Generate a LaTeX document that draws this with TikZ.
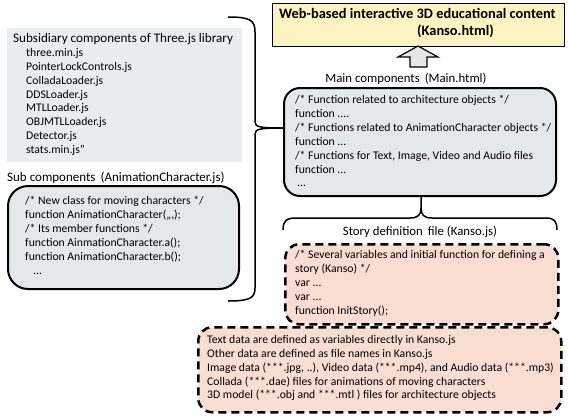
\documentclass[tikz,border=0pt]{standalone}
\usepackage{fontspec}
\setmainfont{Carlito}
\begin{document}
\begin{tikzpicture}[x=1pt,y=-1pt,
  txt/.style={inner sep=0pt,anchor=north west,align=left,font=\fontsize{11.7}{13.9}\selectfont},
  lbl/.style={inner sep=0pt,font=\fontsize{12.8}{14}\selectfont},
  graybox/.style={fill=boxgray,draw=none,inner sep=0pt,anchor=north west},
  roundbox/.style={draw=black,line width=2pt,rounded corners=16pt,fill=boxblue,inner sep=0pt,anchor=north west},
  dashbox/.style={draw=black,line width=2.5pt,dash pattern=on 8pt off 5pt,rounded corners=14pt,fill=salmon,inner sep=0pt,anchor=north west},
  brace/.style={draw=black,line width=1.5pt}]
\definecolor{boxgray}{HTML}{E9EDEE}
\definecolor{boxblue}{HTML}{E3E9EB}
\definecolor{salmon}{HTML}{F9DDD2}
\definecolor{titleyellow}{HTML}{FBF3C1}
\definecolor{arrowgray}{HTML}{E6E6E6}
\useasboundingbox (0,0) rectangle (568,416);
% title
\node[draw=black,line width=1.2pt,fill=titleyellow,minimum width=292pt,minimum height=43pt,inner sep=0pt,anchor=north west] (title) at (272,3) {};
\node[inner sep=0pt,anchor=north west,align=left,font=\fontsize{14.4}{17}\selectfont\bfseries] (titletxt) at (279,8) {Web-based interactive 3D educational content\\\hspace*{138pt}(Kanso.html)};
% hollow arrow
\coordinate (a1) at (410,67);
\coordinate (a2) at (410,57);
\coordinate (a3) at (398,57);
\coordinate (a4) at (418,46);
\coordinate (a5) at (438,57);
\coordinate (a6) at (427,57);
\coordinate (a7) at (427,67);
\draw[line width=1.2pt,fill=arrowgray] (a1) -- (a2) -- (a3) -- (a4) -- (a5) -- (a6) -- (a7) -- cycle;
% main
\node[lbl] (mainlbl) at (406,79) {Main components\, (Main.html)};
\node[roundbox,minimum width=272pt,minimum height=108pt] (main) at (283,87) {};
\node[txt] (maintxt) at (295,95) {/* Function related to architecture objects */\\
function ....\\
/* Functions related to AnimationCharacter objects */\\
function ...\\
/* Functions for Text, Image, Video and Audio files\\
function ...\\
\hspace*{2pt}...};
% subsidiary
\node[graybox,minimum width=235pt,minimum height=134pt] (subsid) at (7,28) {};
\node[inner sep=0pt,anchor=north west,align=left,font=\fontsize{13.1}{15}\selectfont] (subsidtitle) at (13,33) {Subsidiary components of Three.js library};
\node[txt] (subsidtxt) at (26,48) {three.min.js\\
PointerLockControls.js\\
ColladaLoader.js\\
DDSLoader.js\\
MTLLoader.js\\
OBJMTLLoader.js\\
Detector.js\\
stats.min.js"};
% sub components
\node[lbl,anchor=west,font=\fontsize{13}{15}\selectfont] (sublbl) at (7,178) {Sub components\, (AnimationCharacter.js)};
\node[roundbox,rounded corners=20pt,minimum width=231pt,minimum height=103pt] (sub) at (7,185) {};
\node[txt] (subtxt) at (25,196) {/* New class for moving characters */\\
function AnimationCharacter(,,,);\\
/* Its member functions */\\
function AinmationCharacter.a();\\
function AnimationCharacter.b();\\
\hspace*{8pt}...};
% big left brace
\coordinate (b1) at (228,17);
\coordinate (b2) at (228,301);
\coordinate (btip) at (main.west |- 0,128);
\draw[brace] (b1) .. controls (250,17) and (255,20) .. (255,32) -- (255,122)
  .. controls (255,127) and (260,128) .. (btip);
\draw[brace] (btip) .. controls (260,128) and (255,129) .. (255,134) -- (255,288)
  .. controls (255,298) and (250,301) .. (b2);
% story brace
\coordinate (s1) at (283,230);
\coordinate (s2) at (557,230);
\coordinate (stip) at (421,208);
\draw[brace] (s1) .. controls (283,221) and (286,218) .. (296,218) -- (410,218)
  .. controls (418,218) and (421,215) .. (stip) -- (main.south -| stip);
\draw[brace] (s2) .. controls (557,221) and (554,218) .. (546,218) -- (432,218)
  .. controls (424,218) and (421,215) .. (stip);
% story
\node[lbl] (storylbl) at (420,232) {Story definition\, file (Kanso.js)};
\node[dashbox,minimum width=273pt,minimum height=80pt] (story) at (284,243) {};
\node[txt] (storytxt) at (295,250) {/* Several variables and initial function for defining a\\
story (Kanso) */\\
var ...\\
var ...\\
function InitStory();};
% bottom
\node[dashbox,minimum width=363pt,minimum height=85pt] (data) at (197,326) {};
\node[txt] (datatxt) at (207,335) {Text data are defined as variables directly in Kanso.js\\
Other data are defined as file names in Kanso.js\\
Image data (***.jpg, ..), Video data (***.mp4), and Audio data (***.mp3)\\
Collada (***.dae) files for animations of moving characters\\
3D model (***.obj and ***.mtl ) files for architecture objects};
\end{tikzpicture}
\end{document}
